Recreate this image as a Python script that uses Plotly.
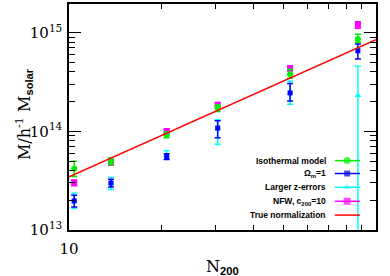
import plotly.graph_objects as go

# ---------------- data ----------------
n200 = [10.4, 13.7, 20.8, 30.5, 52.5, 87.3]

iso_m = [4.17e13, 4.97e13, 9.22e13, 1.72e14, 3.78e14, 8.6e14]
iso_ep = [0.80e13, 0.40e13, 0.66e13, 1.4e13, 4.7e13, 1.0e14]
iso_em = [0.68e13, 0.40e13, 0.62e13, 1.3e13, 3.3e13, 0.62e14]

om1_m = [1.97e13, 2.99e13, 5.54e13, 1.08e14, 2.45e14, 6.55e14]
om1_ep = [0.28e13, 0.27e13, 0.40e13, 0.20e14, 0.60e14, 1.14e14]
om1_em = [0.26e13, 0.27e13, 0.36e13, 0.22e14, 0.42e14, 1.15e14]

zerr_m = [1.97e13, 2.99e13, 5.7e13, 1.06e14, 2.45e14, 2.3e14]
zerr_ep = [0.39e13, 0.42e13, 0.67e13, 0.25e14, 0.77e14, 2.25e14]
zerr_em = [0.31e13, 0.41e13, 0.50e13, 0.32e14, 0.57e14, 2.3e14]

nfw_m = [3.01e13, 4.82e13, 1.0e14, 1.85e14, 4.35e14, 1.2e15]
nfw_ep = [0.20e13, 0.30e13, 0.6e13, 1.1e13, 2.6e13, 0.9e14]
nfw_em = [0.20e13, 0.30e13, 0.6e13, 1.1e13, 2.6e13, 0.9e14]

true_n = [10, 100]
true_m = [3.45e13, 8.5e14]

x_ticks = [10, 100]
x_ticktext = ["10", "100"]
y_ticks = [1e13, 1e14, 1e15]
y_ticktext = ["10<sup>13</sup>", "10<sup>14</sup>", "10<sup>15</sup>"]

legend_labels = ["Isothermal model", "Ω<sub>m</sub>=1", "Larger z-errors",
                 "NFW, c<sub>200</sub>=10", "True normalization"]

GREEN = "#00ee00"
BLUE = "#0000ff"
CYAN = "#00ffff"
MAGENTA = "#ff00ff"
RED = "#ff0000"

fig = go.Figure()


def add_series(y, ep, em, color, symbol, size):
    fig.add_trace(go.Scatter(
        x=n200, y=y, mode="markers",
        marker=dict(color=color, symbol=symbol, size=size, line=dict(width=0)),
        error_y=dict(type="data", array=ep, arrayminus=em, color=color,
                     thickness=1.5, width=3),
        showlegend=False, cliponaxis=True))


add_series(zerr_m, zerr_ep, zerr_em, CYAN, "triangle-up", 6)
add_series(om1_m, om1_ep, om1_em, BLUE, "square", 5)
add_series(nfw_m, nfw_ep, nfw_em, MAGENTA, "square", 6)
add_series(iso_m, iso_ep, iso_em, GREEN, "circle", 6)

fig.add_trace(go.Scatter(x=true_n, y=true_m, mode="lines",
                         line=dict(color=RED, width=1.5), showlegend=False))

# ---------------- manual legend (text left, sample right) ----------------
leg_colors = [GREEN, BLUE, CYAN, MAGENTA, RED]
leg_symbols = ["circle", "square", "triangle-up", "square", None]
leg_sizes = [7, 6, 6, 7, 0]
row_y = [0.307, 0.250, 0.189, 0.127, 0.066]
lx0, lxm, lx1, ltext = 0.866, 0.906, 0.948, 0.844
for lab, col, sym, sz, ry in zip(legend_labels, leg_colors, leg_symbols, leg_sizes, row_y):
    fig.add_trace(go.Scatter(
        x=[lx0, lxm, lx1], y=[ry, ry, ry], xaxis="x2", yaxis="y2",
        mode="lines+markers" if sym else "lines",
        line=dict(color=col, width=1.5),
        marker=dict(color=col, symbol=sym or "circle", size=[0, sz, 0], line=dict(width=0)),
        showlegend=False, hoverinfo="skip"))
    fig.add_annotation(x=ltext, y=ry, xref="x2", yref="y2", text="<b>" + lab + "</b>",
                       showarrow=False, xanchor="right", yanchor="middle",
                       font=dict(family="Liberation Sans", size=8.5, color="black"))

serif = "DejaVu Serif"
axis_common = dict(showline=True, linecolor="black", linewidth=1.5, mirror="allticks",
                   ticks="inside", tickcolor="black", tickwidth=1, showgrid=False,
                   zeroline=False, tickfont=dict(family=serif, size=15, color="black"))

fig.update_layout(
    width=390, height=276,
    margin=dict(l=69, r=14, t=2, b=46),
    paper_bgcolor="white", plot_bgcolor="white",
    xaxis=dict(type="log", range=[1, 2], tickmode="array", tickvals=x_ticks,
               ticktext=x_ticktext, ticklen=12, ticklabelstandoff=4,
               minor=dict(ticks="inside", ticklen=5, tickcolor="black",
                          tickvals=[k * 10 for k in range(2, 10)]),
               **axis_common),
    yaxis=dict(type="log", range=[13, 15.29], tickmode="array", tickvals=y_ticks,
               ticktext=y_ticktext, ticklen=12, ticklabelstandoff=2,
               minor=dict(ticks="inside", ticklen=6, tickcolor="black",
                          tickvals=[k * 10 ** e for e in (13, 14, 15) for k in range(2, 10)]),
               **axis_common),
    xaxis2=dict(range=[0, 1], overlaying="x", visible=False, fixedrange=True),
    yaxis2=dict(range=[0, 1], overlaying="y", visible=False, fixedrange=True),
)

W, H, L, R, T, B = 390, 276, 69, 14, 2, 46
pw, ph = W - L - R, H - T - B


def px_to_paper(px, py):
    return (px - L) / pw, (H - B - py) / ph


ax_, ay_ = px_to_paper(222, 267)
fig.add_annotation(
    x=ax_, y=ay_, xref="paper", yref="paper", showarrow=False,
    xanchor="center", yanchor="middle",
    text='N<sub><span style="font-family:Liberation Sans;font-weight:bold">200</span></sub>',
    font=dict(family=serif, size=16, color="black"))

ax_, ay_ = px_to_paper(11, 113)
fig.add_annotation(
    x=ax_, y=ay_, xref="paper", yref="paper", showarrow=False, textangle=-90,
    text='M/h<sup>-1</sup> M<sub><span style="font-family:Liberation Sans;font-weight:bold">solar</span></sub>',
    font=dict(family=serif, size=16, color="black"))

fig.write_html("out.html", config={"displayModeBar": False},
               post_script="document.body.style.margin='0';document.body.style.padding='0';")
